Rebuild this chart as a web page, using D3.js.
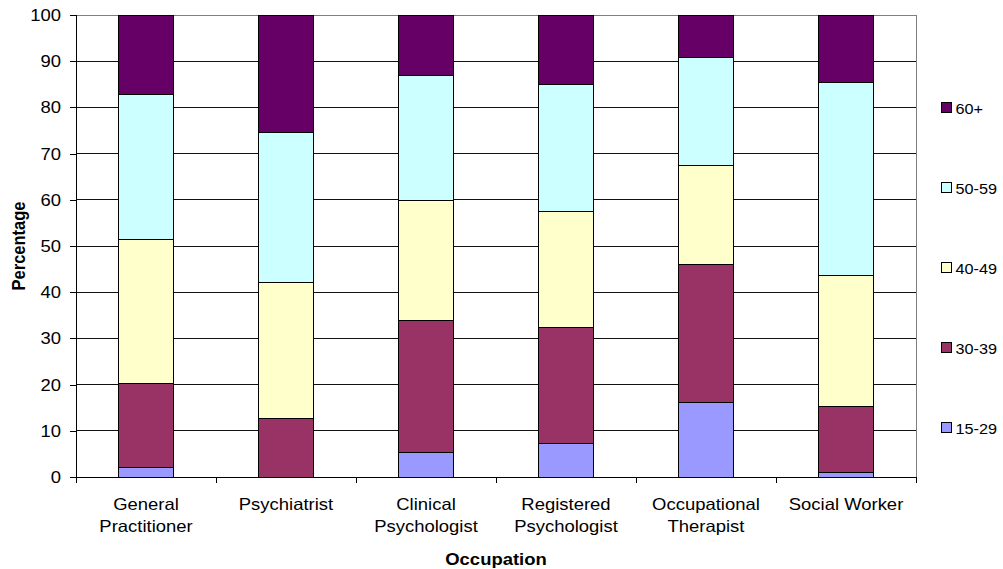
<!DOCTYPE html>
<html>
<head>
<meta charset="utf-8">
<script src="https://cdn.jsdelivr.net/npm/d3@7"></script>
<style>
  body { margin: 0; background: #fff; }
  svg { display: block; font-family: "Liberation Sans", Arial, sans-serif; }
</style>
</head>
<body>
<svg id="chart" width="1003" height="569"></svg>
<script>
// Age distribution (%) of mental health workforce by occupation
const occupations = [
  ["General", "Practitioner"],
  ["Psychiatrist"],
  ["Clinical", "Psychologist"],
  ["Registered", "Psychologist"],
  ["Occupational", "Therapist"],
  ["Social Worker"]
];
const ageGroups = ["15-29", "30-39", "40-49", "50-59", "60+"];
const age15to29 = [2.0, 0.0, 5.4, 7.2, 16.2, 1.0];
const age30to39 = [18.3, 12.6, 28.5, 25.2, 29.7, 14.3];
const age40to49 = [31.2, 29.5, 26.0, 25.0, 21.6, 28.4];
const age50to59 = [31.2, 32.5, 27.0, 27.6, 23.2, 41.6];
const age60plus = [17.3, 25.4, 13.1, 15.0, 9.3, 14.7];
const yTicks = [0, 10, 20, 30, 40, 50, 60, 70, 80, 90, 100];
const colors = ["#9999FF", "#993366", "#FFFFCC", "#CCFFFF", "#660066"];

const seriesValues = [age15to29, age30to39, age40to49, age50to59, age60plus];
const rows = occupations.map((o, i) => {
  const r = { key: i };
  ageGroups.forEach((g, j) => { r[g] = seriesValues[j][i]; });
  return r;
});

const svg = d3.select("#chart");
const margin = { left: 76, right: 87, top: 15, bottom: 92 };
const W = 1003, H = 569;
const x0 = margin.left, x1 = W - margin.right;
const y0 = H - margin.bottom, y1 = margin.top;
const WIDEN = 1.12; // horizontal widening of the label type

const x = d3.scaleBand().domain(d3.range(occupations.length)).range([x0, x1]).paddingInner(0.607).paddingOuter(0.3035);
const y = d3.scaleLinear().domain([0, 100]).range([y0, y1]);

// Places a horizontally widened text label anchored at (tx, ty)
function label(parent, tx, ty, str, opts) {
  const g = parent.append("g").attr("transform", `translate(${tx},${ty}) scale(${WIDEN},1)`);
  return g.append("text")
    .attr("text-anchor", opts.anchor || "start")
    .attr("font-size", opts.size)
    .attr("font-weight", opts.weight || "normal")
    .attr("fill", "#000")
    .text(str);
}

// Horizontal gridlines
svg.append("g")
  .selectAll("line")
  .data(yTicks.filter(t => t > 0))
  .join("line")
  .attr("x1", x0).attr("x2", x1)
  .attr("y1", d => y(d)).attr("y2", d => y(d))
  .attr("stroke", "#111").attr("stroke-width", 1)
  .attr("shape-rendering", "crispEdges");

// Plot border (top/right grey)
svg.append("rect")
  .attr("x", x0).attr("y", y1).attr("width", x1 - x0).attr("height", y0 - y1)
  .attr("fill", "none").attr("stroke", "#808080").attr("stroke-width", 1)
  .attr("shape-rendering", "crispEdges");

// Stacked bars
const stack = d3.stack().keys(ageGroups);
const layers = stack(rows);
svg.append("g")
  .selectAll("g")
  .data(layers)
  .join("g")
  .attr("fill", (d, i) => colors[i])
  .selectAll("rect")
  .data(d => d)
  .join("rect")
  .attr("x", d => x(d.data.key))
  .attr("width", x.bandwidth())
  .attr("y", d => y(d[1]))
  .attr("height", d => y(d[0]) - y(d[1]))
  .attr("stroke", "#000").attr("stroke-width", 1)
  .attr("shape-rendering", "crispEdges");

// Y axis (ticks and line via d3, labels widened separately)
const yAxis = d3.axisLeft(y).tickValues(yTicks).tickSize(6).tickFormat("");
const gy = svg.append("g").attr("transform", `translate(${x0},0)`).call(yAxis);
gy.select(".domain").attr("stroke", "#000").attr("shape-rendering", "crispEdges");
gy.selectAll(".tick line").attr("stroke", "#000").attr("shape-rendering", "crispEdges");
const yLab = svg.append("g");
yTicks.forEach(t => {
  label(yLab, 61, y(t) + 6, d3.format("d")(t), { anchor: "end", size: 16.5 });
});

// X axis baseline with category separators
svg.append("line")
  .attr("x1", x0).attr("x2", x1).attr("y1", y0).attr("y2", y0)
  .attr("stroke", "#000").attr("shape-rendering", "crispEdges");
svg.append("g").selectAll("line")
  .data(d3.range(occupations.length + 1))
  .join("line")
  .attr("x1", i => x0 + x.step() * i)
  .attr("x2", i => x0 + x.step() * i)
  .attr("y1", y0).attr("y2", y0 + 6)
  .attr("stroke", "#000").attr("shape-rendering", "crispEdges");

// Category labels
const catG = svg.append("g");
occupations.forEach((lines, i) => {
  lines.forEach((ln, k) => {
    label(catG, x(i) + x.bandwidth() / 2, 510 + k * 22, ln, { anchor: "middle", size: 16.5 });
  });
});

// Axis titles
label(svg, (x0 + x1) / 2, 565, "Occupation", { anchor: "middle", size: 16.5, weight: "bold" });
svg.append("g")
  .attr("transform", `translate(25,${(y0 + y1) / 2}) rotate(-90) scale(1,${WIDEN})`)
  .append("text")
  .attr("text-anchor", "middle").attr("font-size", 16.5).attr("font-weight", "bold")
  .text("Percentage");

// Legend (reverse order, top = 60+)
const legendItems = ageGroups.map((g, i) => ({ g, c: colors[i] })).reverse();
const lg = svg.append("g");
legendItems.forEach((d, i) => {
  const cy = 108 + i * 80;
  lg.append("rect")
    .attr("x", 941.5).attr("y", cy - 5.5).attr("width", 10).attr("height", 10)
    .attr("fill", d.c).attr("stroke", "#000").attr("stroke-width", 1);
  label(lg, 955.5, cy + 6, d.g, { size: 14.5 });
});
</script>
</body>
</html>
